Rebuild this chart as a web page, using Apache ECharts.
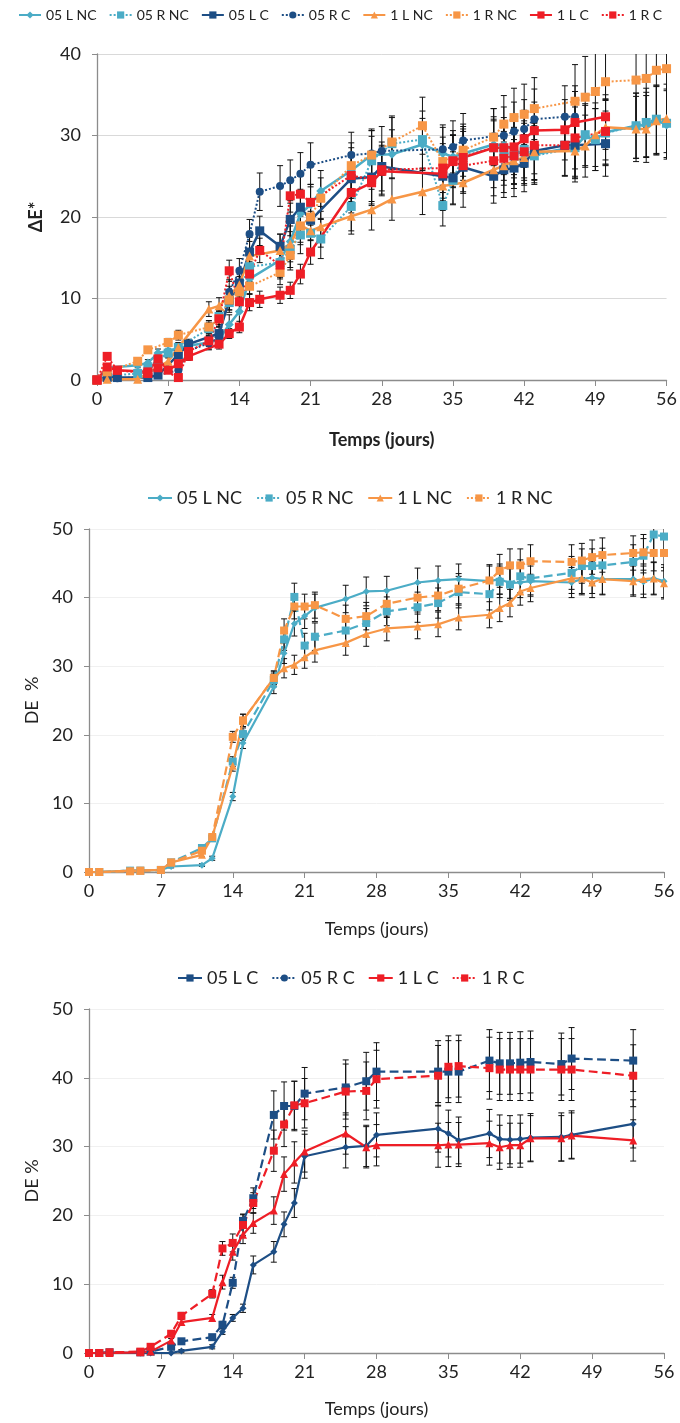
<!DOCTYPE html>
<html><head><meta charset="utf-8">
<script src="https://cdn.jsdelivr.net/npm/echarts@6/dist/echarts.min.js"></script>
<style>html,body{margin:0;padding:0;background:#fff}#c{width:680px;height:1423px}</style>
</head><body><div id="c"></div>
<script>
// ---------- DATA: [day, value, error] ----------
// Panel 1 : ΔE*
var p1_05LNC = [[0,0,0],[1,1.5,0.3],[4,1.8,0.3],[5,2.1,0.4],[6,3.3,0.5],[7,3.6,0.5],[8,3.9,0.6],[9,4.2,0.6],[11,4.6,0.8],[12,5.0,0.9],[13,6.8,1.2],[14,8.4,1.5],[15,12.4,1.8],[18,14.7,2.0],[19,17.0,2.2],[20,20.4,2.4],[21,21.5,2.5],[22,23.2,2.5],[25,25.7,2.8],[27,27.6,3.0],[29,27.7,3.0],[32,28.9,3.2],[34,27.8,3.2],[35,27.4,3.2],[36,27.8,3.3],[39,28.9,3.4],[40,28.8,3.4],[41,28.3,3.5],[42,27.6,3.5],[43,27.7,3.5],[47,28.6,3.8],[48,29.9,3.8],[49,29.5,3.8],[50,30.4,4.0],[53,31.2,4.0],[54,31.3,4.0],[55,31.9,4.2],[56,31.3,4.2]];
var p1_05RNC = [[0,0,0],[1,0.5,0.2],[4,0.8,0.3],[5,1.5,0.3],[6,2.5,0.4],[7,3.3,0.5],[8,4.0,0.5],[11,6.3,0.8],[12,7.8,1.0],[13,9.5,1.2],[14,11.2,1.5],[15,13.9,1.8],[18,14.4,2.0],[19,16.0,2.2],[20,17.8,2.3],[21,18.0,2.4],[22,17.3,2.4],[25,21.3,3.0],[27,26.9,3.0],[29,29.0,3.2],[32,29.5,3.5],[34,21.4,2.5],[35,24.5,3.0],[36,27.5,3.3],[39,28.5,3.5],[40,28.0,3.5],[41,27.5,3.5],[42,28.3,3.5],[43,27.5,3.5],[47,28.5,3.8],[48,30.1,3.8],[49,29.5,3.8],[50,30.3,4.0],[53,31.2,4.0],[54,31.6,4.2],[55,32.0,4.2],[56,31.5,4.2]];
var p1_05LC = [[0,0,0],[1,0.3,0.2],[2,0.3,0.2],[5,0.3,0.2],[6,0.6,0.3],[8,3.1,0.5],[9,4.4,0.6],[12,5.7,0.8],[13,9.8,1.2],[14,11.9,1.5],[15,15.7,1.8],[16,18.3,1.8],[18,16.4,1.5],[19,19.7,2.0],[20,21.2,2.2],[21,19.6,2.5],[25,24.7,2.8],[27,24.9,3.0],[28,26.2,3.0],[34,25.0,3.0],[35,24.8,3.2],[36,26.1,3.2],[39,25.0,3.3],[40,25.8,3.4],[41,26.0,3.5],[42,26.6,3.5],[43,28.1,3.5],[46,28.8,3.8],[47,28.8,3.8],[50,29.0,4.0]];
var p1_05RC = [[0,0,0],[1,0.5,0.2],[2,0.2,0.2],[5,0.4,0.2],[6,0.6,0.3],[8,1.2,0.4],[9,3.6,0.6],[11,4.5,0.8],[12,5.2,0.9],[13,10.8,1.5],[14,13.4,1.5],[15,17.9,1.8],[16,23.1,2.3],[18,23.8,2.5],[19,24.5,2.5],[20,25.3,2.6],[21,26.4,2.7],[25,27.6,2.8],[27,27.8,3.0],[28,28.1,3.0],[34,28.3,3.0],[35,28.6,3.2],[36,29.4,3.3],[39,29.9,3.4],[40,30.0,3.5],[41,30.5,3.6],[42,30.8,3.6],[43,32.0,3.7],[46,32.3,3.8],[47,32.3,3.8]];
var p1_1LNC = [[0,0,0],[1,0.1,0.2],[4,0.1,0.2],[7,2.3,0.4],[8,4.0,0.6],[11,8.7,0.9],[12,9.1,1.0],[13,10.3,1.2],[14,11.7,1.5],[15,15.2,1.8],[18,15.9,2.0],[19,16.7,2.2],[20,19.0,2.4],[21,18.3,2.4],[22,18.8,2.5],[25,20.1,2.2],[27,20.9,2.5],[29,22.2,2.6],[32,23.1,2.8],[34,23.8,3.0],[36,24.2,3.0],[39,25.8,3.2],[40,26.3,3.3],[41,26.9,3.4],[42,27.3,3.4],[43,28.0,3.5],[47,28.1,3.8],[48,28.7,3.8],[49,30.1,3.9],[50,31.0,4.0],[53,30.8,4.0],[54,30.8,4.1],[55,31.8,4.2],[56,32.1,4.2]];
var p1_1RNC = [[0,0,0],[1,1.0,0.2],[4,2.3,0.3],[5,3.7,0.4],[7,4.6,0.5],[8,5.5,0.6],[11,6.5,0.8],[12,7.5,1.0],[13,9.8,1.2],[14,10.8,1.4],[15,11.5,1.5],[18,13.2,1.5],[19,15.3,1.8],[20,18.9,2.0],[21,20.0,2.2],[22,22.3,2.5],[25,26.3,2.8],[27,27.6,3.0],[29,29.2,3.2],[32,31.2,3.5],[34,26.8,3.0],[36,28.2,3.2],[39,29.8,3.5],[40,31.4,3.5],[41,32.2,3.6],[42,32.6,3.7],[43,33.3,3.8],[47,34.2,4.5],[48,34.7,5.0],[49,35.4,5.5],[50,36.6,6.0],[53,36.8,6.0],[54,37.0,6.0],[55,38.0,6.5],[56,38.2,6.5]];
var p1_1LC = [[0,0,0],[1,1.6,0.3],[2,1.2,0.3],[5,1.0,0.3],[6,2.6,0.4],[7,1.2,0.3],[8,2.0,0.4],[9,2.9,0.5],[12,4.4,0.6],[13,5.7,0.6],[14,6.5,0.7],[15,9.5,1.0],[16,9.9,1.0],[18,10.4,1.0],[19,11.0,1.0],[20,13.0,1.2],[21,15.7,1.5],[25,23.0,2.5],[27,24.2,2.8],[28,25.6,3.0],[34,25.3,3.0],[35,26.9,3.2],[36,27.3,3.2],[39,28.5,3.3],[40,28.5,3.3],[41,28.6,3.4],[42,29.6,3.5],[43,30.6,3.5],[46,30.7,3.7],[47,31.6,3.8],[50,32.3,4.0]];
var p1_1RC = [[0,0,0],[1,2.9,0.3],[2,1.2,0.3],[5,0.8,0.3],[6,1.5,0.3],[8,0.3,0.3],[9,3.5,0.5],[11,4.8,0.7],[12,7.5,0.9],[13,13.4,1.3],[14,9.6,1.2],[15,13.0,1.5],[16,15.9,1.5],[18,14.1,1.5],[19,22.6,2.0],[20,22.8,2.2],[21,21.8,2.2],[25,25.1,2.8],[27,24.6,3.0],[28,25.8,3.0],[34,26.0,3.0],[35,26.8,3.2],[36,26.3,3.2],[39,26.9,3.3],[40,27.2,3.3],[41,27.5,3.4],[42,28.0,3.5],[43,28.8,3.5],[46,28.8,3.7],[47,29.7,3.8],[50,30.5,4.0]];

// Panel 2 : DE % (non conditioned)
var p2_05LNC = [[0,0,0],[1,0,0],[4,0.2,0.1],[5,0.2,0.1],[7,0.3,0.1],[8,0.8,0.2],[11,1.0,0.2],[12,2.0,0.3],[14,11.0,0.6],[15,18.8,0.8],[18,27.0,1.0],[19,31.9,1.5],[20,36.2,1.8],[21,37.3,1.8],[22,38.5,2.0],[25,39.8,2.0],[27,40.9,2.1],[29,41.0,2.1],[32,42.2,2.1],[34,42.5,2.1],[36,42.7,2.2],[39,42.4,2.2],[40,42.7,2.2],[41,42.1,2.2],[42,42.2,2.2],[43,42.4,2.2],[47,42.2,2.2],[48,42.7,2.3],[49,42.9,2.3],[50,42.7,2.3],[53,42.7,2.3],[54,42.3,2.3],[55,42.8,2.4],[56,42.4,2.4]];
var p2_05RNC = [[0,0,0],[1,0,0],[4,0.2,0.1],[5,0.2,0.1],[7,0.3,0.1],[8,1.4,0.2],[11,3.5,0.3],[12,4.9,0.4],[14,16.1,0.7],[15,20.1,0.9],[18,28.0,1.0],[19,33.9,1.6],[20,40.1,2.0],[21,33.0,1.8],[22,34.3,2.0],[25,35.2,2.0],[27,36.3,2.1],[29,38.0,2.1],[32,38.6,2.2],[34,39.2,2.2],[36,40.8,2.3],[39,40.5,2.3],[40,42.3,2.3],[41,41.9,2.3],[42,43.1,2.4],[43,42.8,2.4],[47,43.6,2.4],[48,44.6,2.5],[49,44.6,2.5],[50,44.7,2.5],[53,45.2,2.5],[54,46.1,2.5],[55,49.2,2.6],[56,48.9,2.6]];
var p2_1LNC = [[0,0,0],[1,0,0],[4,0.2,0.1],[5,0.2,0.1],[7,0.3,0.1],[8,1.4,0.2],[11,2.5,0.3],[12,5.1,0.4],[14,15.5,0.8],[15,22.1,0.9],[18,28.3,1.0],[19,29.7,1.4],[20,30.2,1.4],[21,31.3,1.6],[22,32.3,1.7],[25,33.4,1.8],[27,34.7,1.8],[29,35.5,1.8],[32,35.8,1.8],[34,36.1,1.8],[36,37.1,1.8],[39,37.5,1.9],[40,38.5,2.0],[41,39.2,2.0],[42,40.9,2.0],[43,41.4,2.0],[47,42.8,2.2],[48,42.8,2.2],[49,42.2,2.2],[50,42.7,2.2],[53,42.4,2.2],[54,42.7,2.2],[55,42.8,2.3],[56,42.1,2.3]];
var p2_1RNC = [[0,0,0],[1,0,0],[4,0.1,0.1],[5,0.2,0.1],[7,0.3,0.1],[8,1.4,0.2],[11,3.1,0.3],[12,5.1,0.4],[14,19.7,0.8],[15,22.1,0.9],[18,28.3,1.0],[19,35.2,1.7],[20,38.7,1.8],[21,38.7,1.8],[22,38.9,1.9],[25,36.9,2.0],[27,37.3,2.0],[29,39.1,2.0],[32,40.0,2.1],[34,40.3,2.2],[36,41.3,2.2],[39,42.5,2.3],[40,43.9,2.4],[41,44.7,2.4],[42,44.7,2.4],[43,45.3,2.4],[47,45.2,2.5],[48,45.4,2.5],[49,45.9,2.5],[50,46.2,2.5],[53,46.5,2.5],[54,46.6,2.6],[55,46.5,2.6],[56,46.5,2.6]];

// Panel 3 : DE % (conditioned)
var p3_05LC = [[0,0,0],[1,0,0.1],[2,0.1,0.1],[5,0,0.1],[6,0,0.1],[8,0,0.1],[9,0.3,0.2],[12,0.9,0.3],[13,3.1,0.4],[14,5.1,0.5],[15,6.5,0.6],[16,12.8,1.3],[18,14.7,1.5],[19,18.7,1.8],[20,21.8,2.1],[21,28.6,3.2],[25,29.9,3.0],[27,30.1,3.0],[28,31.7,3.2],[34,32.6,3.4],[35,31.9,3.4],[36,30.9,3.4],[39,31.9,3.5],[40,31.1,3.5],[41,31.0,3.5],[42,31.1,3.5],[43,31.3,3.5],[46,31.4,3.5],[47,31.7,3.5],[53,33.3,3.5]];
var p3_05RC = [[0,0,0],[1,0,0.1],[2,0.1,0.1],[5,0.1,0.1],[6,0.2,0.1],[8,0.9,0.2],[9,1.7,0.2],[12,2.3,0.3],[13,4.1,0.5],[14,10.2,0.8],[15,19.2,1.0],[16,22.5,1.5],[18,34.6,3.5],[19,35.9,3.5],[20,35.9,3.6],[21,37.7,3.8],[25,38.6,4.0],[27,39.5,4.2],[28,40.9,4.2],[34,40.9,4.5],[35,40.9,4.5],[36,40.9,4.5],[39,42.5,4.5],[40,42.1,4.5],[41,42.1,4.5],[42,42.2,4.5],[43,42.3,4.5],[46,42.0,4.5],[47,42.8,4.5],[53,42.5,4.5]];
var p3_1LC = [[0,0,0],[1,0,0.1],[2,0,0.1],[5,0.1,0.1],[6,0.2,0.1],[8,1.8,0.3],[9,4.5,0.5],[12,5.1,0.5],[13,10.3,1.0],[14,14.7,1.2],[15,17.2,1.3],[16,18.9,1.5],[18,20.7,2.0],[19,26.0,2.5],[20,27.7,3.0],[21,29.3,3.0],[25,31.9,3.0],[27,29.9,3.0],[28,30.2,3.0],[34,30.2,3.2],[35,30.3,3.2],[36,30.3,3.2],[39,30.5,3.2],[40,29.9,3.2],[41,30.2,3.2],[42,30.2,3.2],[43,31.2,3.3],[46,31.2,3.3],[47,31.6,3.3],[53,30.9,3.0]];
var p3_1RC = [[0,0,0],[1,0,0.1],[2,0.1,0.1],[5,0.2,0.1],[6,0.9,0.2],[8,2.8,0.4],[9,5.4,0.5],[12,8.6,0.6],[13,15.2,1.0],[14,16.0,1.3],[15,18.6,1.5],[16,21.8,1.5],[18,29.4,3.0],[19,33.2,3.2],[20,36.0,3.5],[21,36.3,3.6],[25,38.0,4.0],[27,38.1,4.2],[28,39.8,4.2],[34,40.3,4.4],[35,41.6,4.5],[36,41.7,4.5],[39,41.4,4.5],[40,41.2,4.5],[41,41.2,4.5],[42,41.2,4.5],[43,41.2,4.5],[46,41.2,4.5],[47,41.2,4.5],[53,40.3,4.5]];

var xTitle = 'Temps (jours)';
var y1Title = 'ΔE*';
var y2Title = 'DE  %';
var y3Title = 'DE %';

// ---------- STYLE ----------
var CYAN = '#4BACC6', NAVY = '#1D4E85', ORANGE = '#F79646', RED = '#EE1E26';
var FONT = 'Lato';

function lineS(name, data, color, ltype, symbol, size, width, g) {
  return {
    type: 'line', name: name, xAxisIndex: g, yAxisIndex: g,
    data: data.map(function (d) { return [d[0], d[1]]; }),
    symbol: symbol, symbolSize: size, showSymbol: true,
    lineStyle: { color: color, width: width, type: ltype },
    itemStyle: { color: color, borderWidth: 0 },
    z: 4, animation: false, silent: true
  };
}
function errS(name, data, g) {
  return {
    type: 'custom', name: name + ' err', xAxisIndex: g, yAxisIndex: g,
    data: data, encode: { x: 0, y: 1 }, clip: true, z: 3, animation: false, silent: true,
    renderItem: function (params, api) {
      var x = api.value(0), y = api.value(1), e = api.value(2);
      if (!e) return null;
      var t = api.coord([x, y + e]), b = api.coord([x, y - e]);
      var w = 3, st = { stroke: '#111', lineWidth: 1 };
      return { type: 'group', children: [
        { type: 'line', shape: { x1: t[0], y1: t[1], x2: b[0], y2: b[1] }, style: st },
        { type: 'line', shape: { x1: t[0] - w, y1: t[1], x2: t[0] + w, y2: t[1] }, style: st },
        { type: 'line', shape: { x1: b[0] - w, y1: b[1], x2: b[0] + w, y2: b[1] }, style: st }
      ]};
    }
  };
}
function xAx(g, nameGap, bold) {
  return { type: 'value', gridIndex: g, min: 0, max: 56, interval: 7,
    name: xTitle, nameLocation: 'middle', nameGap: nameGap,
    nameTextStyle: { fontFamily: FONT, fontSize: 18, fontWeight: bold ? 'bold' : 'normal', color: '#222' },
    axisLine: { show: true, onZero: false, lineStyle: { color: '#8c8c8c', width: 1.3 } },
    axisTick: { show: true, inside: false, length: 6, lineStyle: { color: '#8c8c8c' } },
    axisLabel: { fontFamily: FONT, fontSize: 18, color: '#222', margin: 10 },
    splitLine: { show: false } };
}
function yAx(g, max, name, nameGap, bold, splitColor) {
  return { type: 'value', gridIndex: g, min: 0, max: max, interval: 10,
    name: name, nameLocation: 'middle', nameGap: nameGap, nameRotate: 90,
    nameTextStyle: { fontFamily: FONT, fontSize: 18, fontWeight: bold ? 'bold' : 'normal', color: '#222' },
    axisLine: { show: true, lineStyle: { color: '#8c8c8c', width: 1.3 } },
    axisTick: { show: true, inside: false, length: 5, lineStyle: { color: '#8c8c8c' } },
    axisLabel: { fontFamily: FONT, fontSize: 18, color: '#222', margin: 16 },
    splitLine: { show: true, lineStyle: { color: splitColor, width: 1 } } };
}

var series = [];
function add(name, data, color, ltype, symbol, size, width, g) {
  series.push(errS(name + g, data, g));
  series.push(lineS(name, data, color, ltype, symbol, size, width, g));
}
// panel 1
add('05 L NC', p1_05LNC, CYAN, 'solid', 'diamond', 9, 2.5, 0);
add('05 R NC', p1_05RNC, CYAN, 'dotted', 'rect', 9, 2, 0);
add('05 L C', p1_05LC, NAVY, 'solid', 'rect', 9, 2.5, 0);
add('05 R C', p1_05RC, NAVY, 'dotted', 'circle', 8, 2, 0);
add('1 L NC', p1_1LNC, ORANGE, 'solid', 'triangle', 9, 2.5, 0);
add('1 R NC', p1_1RNC, ORANGE, 'dotted', 'rect', 9, 2, 0);
add('1 L C', p1_1LC, RED, 'solid', 'rect', 9, 2.5, 0);
add('1 R C', p1_1RC, RED, 'dotted', 'rect', 9, 2, 0);
// panel 2
add('05 L NC', p2_05LNC, CYAN, 'solid', 'diamond', 7, 2.2, 1);
add('05 R NC', p2_05RNC, CYAN, 'dashed', 'rect', 8, 2.2, 1);
add('1 L NC', p2_1LNC, ORANGE, 'solid', 'triangle', 8, 2.2, 1);
add('1 R NC', p2_1RNC, ORANGE, 'dashed', 'rect', 8, 2.2, 1);
// panel 3
add('05 L C', p3_05LC, NAVY, 'solid', 'diamond', 7, 2.2, 2);
add('05 R C', p3_05RC, NAVY, 'dashed', 'rect', 8, 2.2, 2);
add('1 L C', p3_1LC, RED, 'solid', 'triangle', 8, 2.2, 2);
add('1 R C', p3_1RC, RED, 'dashed', 'rect', 8, 2.2, 2);

var legendText = { fontFamily: FONT, color: '#222' };
var option = {
  animation: false,
  backgroundColor: '#fff',
  grid: [
    { left: 97, top: 54, width: 571, height: 326 },
    { left: 89, top: 529, width: 575, height: 343 },
    { left: 89, top: 1009, width: 575, height: 344 }
  ],
  legend: [
    { top: 8, left: 18, width: 662, itemWidth: 22, itemHeight: 9, itemGap: 12, padding: 0, selectedMode: false,
      textStyle: Object.assign({ fontSize: 14 }, legendText),
      data: ['05 L NC', '05 R NC', '05 L C', '05 R C', '1 L NC', '1 R NC', '1 L C', '1 R C'] },
    { top: 484, left: 142, itemWidth: 24, itemHeight: 9, itemGap: 14, selectedMode: false,
      textStyle: Object.assign({ fontSize: 18 }, legendText),
      data: ['05 L NC', '05 R NC', '1 L NC', '1 R NC'] },
    { top: 964, left: 172, itemWidth: 24, itemHeight: 9, itemGap: 13, selectedMode: false,
      textStyle: Object.assign({ fontSize: 18 }, legendText),
      data: ['05 L C', '05 R C', '1 L C', '1 R C'] }
  ],
  xAxis: [xAx(0, 51, true), xAx(1, 48, false), xAx(2, 47, false)],
  yAxis: [yAx(0, 40, y1Title, 52, true, '#d9d9d9'), yAx(1, 50, y2Title, 46, false, '#f0f0f0'), yAx(2, 50, y3Title, 48, false, '#f0f0f0')],
  series: series
};
var chart = echarts.init(document.getElementById('c'), null, { renderer: 'canvas' });
chart.setOption(option);
</script>
</body></html>
